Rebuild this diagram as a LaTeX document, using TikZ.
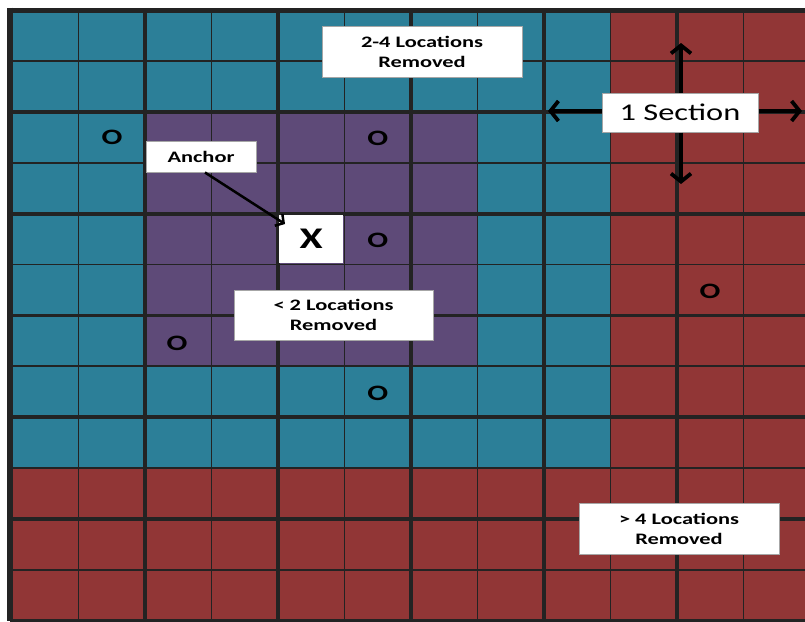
\documentclass[tikz,border=0pt]{standalone}
\usepackage{fontspec}
\newfontfamily\labfont[FakeStretch=1.4]{Carlito}
\newfontfamily\secfont[FakeStretch=1.35]{Carlito}
\usetikzlibrary{arrows.meta}
\definecolor{tealc}{HTML}{2C7F98}
\definecolor{purpc}{HTML}{5E4A78}
\definecolor{redc}{HTML}{913636}
\definecolor{gridc}{HTML}{232323}
\begin{document}
\begin{tikzpicture}[x=1pt,y=-1pt,
  gridthin/.style={gridc,line width=1.8pt},
  gridthick/.style={gridc,line width=4pt},
  labelbox/.style={fill=white,draw=gray!70,line width=1pt,inner sep=0pt,align=center,
    font=\labfont\bfseries\fontsize{16}{20}\selectfont},
  marker/.style={font=\labfont\bfseries\fontsize{22}{22}\selectfont,inner sep=0pt},
  secarrow/.style={black,line width=3.8pt,-{Straight Barb[length=8pt,width=20pt]}},
  ancarrow/.style={black,line width=2.5pt,-{Straight Barb[length=6pt,width=14pt]}}]
\useasboundingbox (0,0) rectangle (805,621);
\fill[white] (0,0) rectangle (805,621);
\begin{scope}
\clip (0,0) rectangle (805,621);
% cell colours
\fill[redc] (12,10) rectangle (810,625);
\fill[tealc] (12,10) rectangle (610.5,468.1);
\fill[purpc] (145,111.8) rectangle (477.5,366.3);
% grid lines
\foreach \c in {1,3,5,7,9,11} \draw[gridthin] ({12+66.5*\c},10) -- ({12+66.5*\c},621);
\foreach \c in {2,4,6,8,10} \draw[gridthick] ({12+66.5*\c},10) -- ({12+66.5*\c},621);
\foreach \r in {1,3,5,7,9,11} \draw[gridthin] (10,{10+50.9*\r}) -- (810,{10+50.9*\r});
\foreach \r in {2,4,8,10} \draw[gridthick] (10,{10+50.9*\r}) -- (810,{10+50.9*\r});
\draw[gridc,line width=3pt] (10,315.4) -- (810,315.4);
\draw[gridc,line width=3pt] (10,620) -- (810,620);
\draw[gridc,line width=6pt] (10,7.5) -- (10,621);
\draw[gridc,line width=5pt] (7,10) -- (810,10);
\end{scope}
% anchor cell
\node[fill=white,minimum width=64pt,minimum height=48pt,inner sep=0pt,
  font=\labfont\bfseries\fontsize{30}{30}\selectfont] (xc) at (311.25,239) {X};
% markers
\node[marker] (o1) at (112,137) {O};
\node[marker] (o2) at (377.75,138) {O};
\node[marker] (o3) at (377.75,240) {O};
\node[marker] (o4) at (177,343) {O};
\node[marker] (o5) at (377.75,393) {O};
\node[marker] (o6) at (710,291) {O};
% labels
\node[labelbox,minimum width=200pt,minimum height=51pt] (t24) at (422,51.5) {2-4 Locations\\Removed};
\node[labelbox,minimum width=199pt,minimum height=50pt] (t2) at (333.5,315) {{\char`\<} 2 Locations\\Removed};
\node[labelbox,minimum width=200pt,minimum height=51pt] (t4) at (679,528.5) {{\char`\>} 4 Locations\\Removed};
\node[labelbox,minimum width=110pt,minimum height=31pt] (anc) at (201,156.5) {Anchor};
\node[fill=white,draw=gray!70,line width=1pt,inner sep=0pt,minimum width=156pt,minimum height=39pt,
  font=\secfont\fontsize{24}{24}\selectfont] (sec) at (680,112.5) {1 Section};
% connectors
\coordinate (secL) at (548,111);
\coordinate (secR) at (802,111);
\coordinate (secU) at (681,43);
\coordinate (secD) at (681,184);
\draw[secarrow] (sec.west |- secL) -- (secL);
\draw[secarrow] (sec.east |- secR) -- (secR);
\draw[secarrow] (sec.north -| secU) -- (secU);
\draw[secarrow] (sec.south -| secD) -- (secD);
\coordinate (anctip) at (285,224);
\draw[ancarrow] ([xshift=4pt]anc.south) -- (anctip);
\end{tikzpicture}
\end{document}
